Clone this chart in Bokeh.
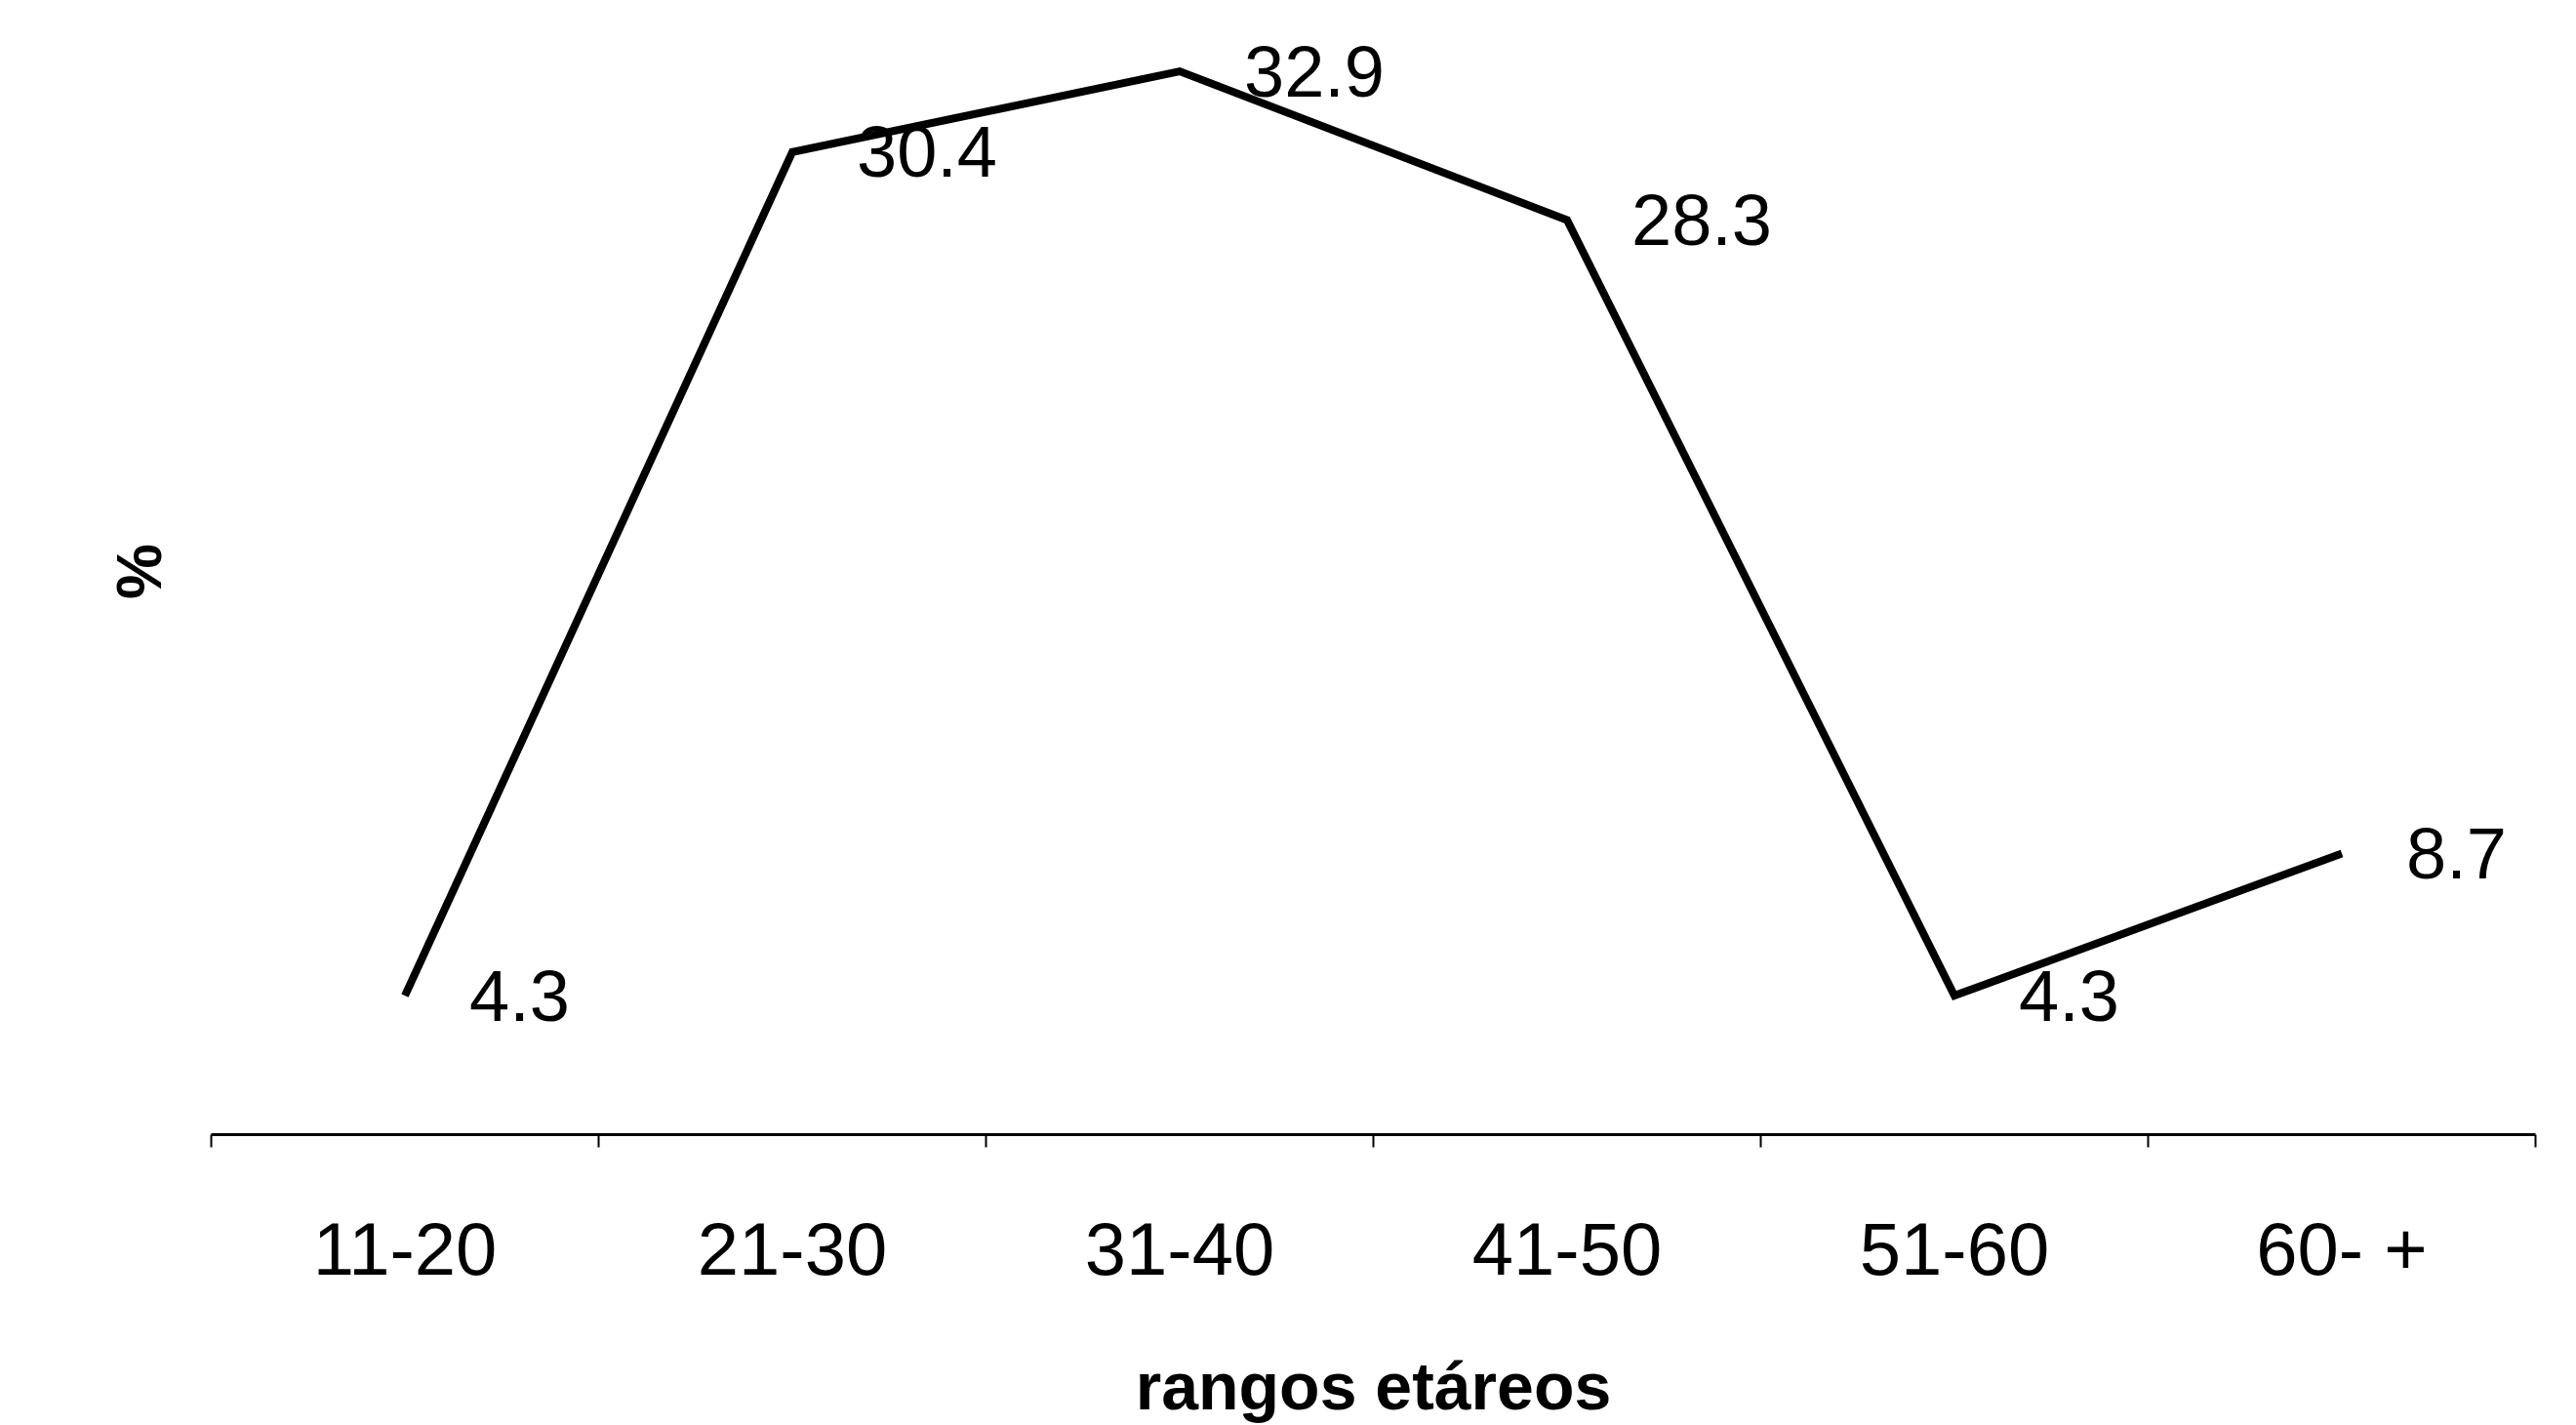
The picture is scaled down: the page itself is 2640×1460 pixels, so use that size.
from bokeh.plotting import figure
from bokeh.models import Range1d, FixedTicker, ColumnDataSource
from bokeh.core.properties import value
from bokeh.embed import file_html
from bokeh.resources import INLINE

categories = ["11-20", "21-30", "31-40", "41-50", "51-60", "60- +"]
percent = [4.3, 30.4, 32.9, 28.3, 4.3, 8.7]
value_labels = ["4.3", "30.4", "32.9", "28.3", "4.3", "8.7"]
x_title = "rangos etáreos"
y_title = "%"

n = len(categories)
xs = list(range(1, n + 1))
src = ColumnDataSource(dict(x=xs, y=percent, lab=value_labels))

FONT = "Liberation Sans"

p = figure(width=2640, height=1460, output_backend="svg", toolbar_location=None,
           x_range=Range1d(0.5, n + 0.5), y_range=Range1d(0, 34.85),
           min_border_left=216, min_border_right=42, min_border_top=8,
           min_border_bottom=298)
p.outline_line_color = None
p.grid.visible = False
p.background_fill_color = "white"
p.border_fill_color = "white"

p.line("x", "y", source=src, line_width=8, line_color="black", line_join="miter")
p.text("x", "y", text="lab", source=src, x_offset=66, text_align="left",
       text_baseline="middle", text_font=value(FONT), text_font_size="74px",
       text_color="black")

xa = p.xaxis[0]
xa.ticker = FixedTicker(ticks=xs, minor_ticks=[i + 0.5 for i in range(0, n + 1)])
xa.major_label_overrides = {x: c for x, c in zip(xs, categories)}
xa.major_tick_line_color = None
xa.major_tick_out = 0
xa.major_tick_in = 0
xa.minor_tick_line_color = "black"
xa.minor_tick_line_width = 2
xa.minor_tick_out = 13
xa.minor_tick_in = 0
xa.axis_line_color = "black"
xa.axis_line_width = 3
xa.major_label_text_font = FONT
xa.major_label_text_font_size = "76px"
xa.major_label_text_color = "black"
xa.major_label_standoff = 61
xa.axis_label = x_title
xa.axis_label_text_font = FONT
xa.axis_label_text_font_size = "68px"
xa.axis_label_text_font_style = "bold"
xa.axis_label_text_color = "black"
xa.axis_label_standoff = 57

ya = p.yaxis[0]
ya.ticker = FixedTicker(ticks=[])
ya.axis_line_color = None
ya.major_tick_line_color = None
ya.minor_tick_line_color = None
ya.axis_label = y_title
ya.axis_label_text_font = FONT
ya.axis_label_text_font_size = "64px"
ya.axis_label_text_font_style = "bold"
ya.axis_label_text_color = "black"
ya.axis_label_standoff = 38

open("out.html", "w").write(file_html(p, INLINE))
